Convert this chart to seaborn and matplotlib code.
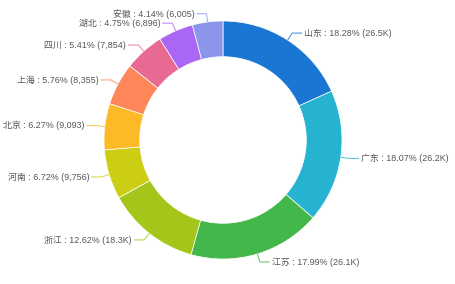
import numpy as np
import matplotlib
matplotlib.use("Agg")
import matplotlib.pyplot as plt
import seaborn as sns

provinces = ["山东", "广东", "江苏", "浙江", "河南", "北京", "上海", "四川", "湖北", "安徽"]
values = [26520, 26220, 26100, 18310, 9756, 9093, 8355, 7854, 6896, 6005]
colors = ["#1976D2", "#26B3D1", "#43B74A", "#A4C61A", "#CCCE13",
          "#FBBA26", "#FF8659", "#E86A92", "#AA66F5", "#8B95EC"]

sns.set_theme(style="white")
plt.rcParams['font.family'] = ['Liberation Sans', 'Noto Sans CJK SC', 'DejaVu Sans']

W, H = 455, 284
fig = plt.figure(figsize=(W / 100, H / 100), dpi=100)
ax = fig.add_axes([0, 0, 1, 1])

cx, cy = 223, H - 140
R = 119
wedges, _ = ax.pie(values, colors=colors, startangle=90, counterclock=False,
                   radius=R, center=(cx, cy),
                   wedgeprops=dict(width=R * 0.30, edgecolor="white", linewidth=0.5))
ax.set_xlim(0, W)
ax.set_ylim(0, H)
ax.set_aspect('auto')
ax.axis('off')

total = sum(values)

def fmt(v):
    if v >= 10000:
        return f"{v/1000:.1f}K"
    return f"{v:,}"

for w, name, v, c in zip(wedges, provinces, values, colors):
    ang = np.deg2rad((w.theta1 + w.theta2) / 2)
    ca, sa = np.cos(ang), np.sin(ang)
    x0, y0 = cx + R * ca, cy + R * sa
    x1, y1 = cx + R * 1.07 * ca, cy + R * 1.07 * sa
    side = 1 if ca >= 0 else -1
    x2 = x1 + side * 10
    ax.plot([x0, x1, x2], [y0, y1, y1], color=c, lw=0.8, alpha=0.75,
            solid_capstyle='butt')
    label = f"{name} : {v/total*100:.2f}% ({fmt(v)})"
    ax.text(x2 + side * 2, y1, label, ha='left' if side > 0 else 'right',
            va='center', fontsize=6.4, color='#555555')

fig.savefig("out.png", dpi=100)
